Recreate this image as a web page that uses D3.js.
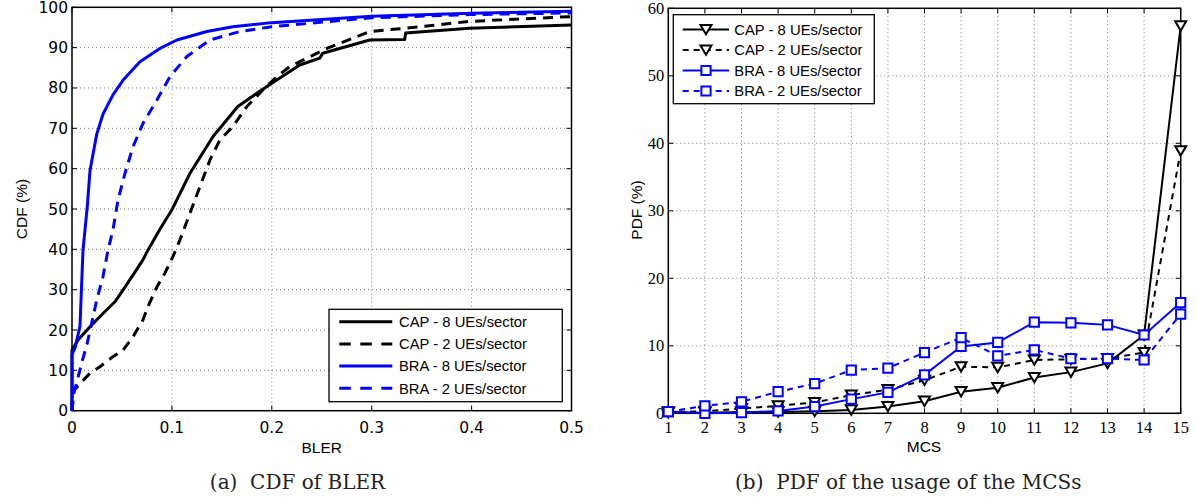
<!DOCTYPE html>
<html>
<head>
<meta charset="utf-8">
<script src="https://cdn.jsdelivr.net/npm/d3@7"></script>
<style>
  html, body { margin: 0; padding: 0; background: #fff; }
  svg { display: block; }
</style>
</head>
<body>
<svg id="chart" width="1197" height="499"></svg>
<script>
// ---------------- Data: (a) CDF of BLER ----------------
const cdfXTicks = [0, 0.1, 0.2, 0.3, 0.4, 0.5];
const cdfYTicks = [0, 10, 20, 30, 40, 50, 60, 70, 80, 90, 100];

const blerCap8 = [0, 0, 0.006, 0.018, 0.031, 0.043, 0.051, 0.061, 0.071, 0.076, 0.088, 0.100, 0.118, 0.141, 0.166, 0.185, 0.200, 0.228, 0.248, 0.251, 0.298, 0.333, 0.334, 0.398, 0.5];
const cdfCap8  = [0, 15, 17.5, 20.8, 24.1, 27.0, 29.9, 33.6, 37.4, 39.8, 45.0, 49.8, 58.8, 67.9, 75.4, 78.7, 81.2, 85.7, 87.4, 88.6, 91.9, 92.0, 93.6, 94.8, 95.6];

const blerCap2 = [0, 0, 0.002, 0.018, 0.028, 0.041, 0.051, 0.061, 0.071, 0.076, 0.085, 0.093, 0.101, 0.108, 0.118, 0.128, 0.138, 0.148, 0.161, 0.175, 0.191, 0.205, 0.218, 0.255, 0.298, 0.333, 0.398, 0.5];
const cdfCap2  = [0, 4, 5.1, 9.3, 10.9, 13.4, 15.0, 18.3, 22.5, 25.8, 30.7, 34.1, 38.2, 42.3, 48.9, 55.5, 62.1, 67.1, 70.4, 75.4, 79.5, 82.8, 85.3, 89.8, 94.0, 94.8, 96.5, 97.7];

const blerBra8 = [0, 0, 0.003, 0.008, 0.011, 0.0153, 0.018, 0.0247, 0.031, 0.041, 0.051, 0.068, 0.088, 0.105, 0.135, 0.161, 0.2, 0.3, 0.4, 0.5];
const cdfBra8  = [0, 14, 15.5, 21, 39.8, 50.6, 59.5, 68.5, 73.5, 78.3, 81.9, 86.5, 89.8, 91.9, 94.0, 95.2, 96.2, 97.8, 98.5, 99.0];

const blerBra2 = [0, 0.002, 0.0097, 0.0153, 0.0197, 0.0247, 0.031, 0.036, 0.041, 0.046, 0.053, 0.061, 0.071, 0.085, 0.098, 0.115, 0.138, 0.168, 0.2, 0.3, 0.4, 0.5];
const cdfBra2  = [0, 4.4, 11.8, 16.8, 21.7, 27.4, 33.2, 39.8, 44.8, 52.2, 58.8, 65.4, 71.2, 77.0, 82.8, 87.8, 91.9, 94.0, 95.2, 97.4, 98.2, 98.6];

const seriesNames = ["CAP - 8 UEs/sector", "CAP - 2 UEs/sector", "BRA - 8 UEs/sector", "BRA - 2 UEs/sector"];

// ---------------- Data: (b) PDF of MCS usage ----------------
const mcs = [1, 2, 3, 4, 5, 6, 7, 8, 9, 10, 11, 12, 13, 14, 15];
const pdfYTicks = [0, 10, 20, 30, 40, 50, 60];
const pdfCap8 = [0.1, 0.1, 0.2, 0.2, 0.3, 0.5, 1.0, 1.8, 3.2, 3.8, 5.3, 6.1, 7.4, 11.6, 57.4];
const pdfCap2 = [0.2, 0.3, 0.7, 1.1, 1.6, 2.7, 3.5, 4.9, 6.9, 6.8, 7.9, 8.0, 8.1, 9.0, 38.9];
const pdfBra8 = [0.25, 0.0, 0.1, 0.35, 1.0, 2.1, 3.1, 5.7, 9.9, 10.5, 13.5, 13.4, 13.1, 11.6, 16.4];
const pdfBra2 = [0.25, 1.1, 1.7, 3.2, 4.4, 6.4, 6.7, 9.0, 11.2, 8.5, 9.4, 8.1, 8.1, 7.9, 14.7];

const captions = ["(a)\u00a0 CDF of BLER", "(b)\u00a0 PDF of the usage of the MCSs"];

// ---------------- Drawing ----------------
const svg = d3.select("#chart");
svg.append("rect").attr("width", 1197).attr("height", 499).attr("fill", "#fff");

const BLUE = "#0000ff";
const SANS = "'Liberation Sans', Arial, Helvetica, sans-serif";

function frame(g, x, y, xTicks, yTicks, xFmt, yFmt, tickFont, tickSize, xLabOff) {
  const [x0, x1] = x.range();
  const [y0, y1] = y.range(); // y0 bottom, y1 top
  const grid = g.append("g").attr("stroke", "#777").attr("stroke-width", 1).attr("stroke-dasharray", "1,3");
  xTicks.forEach(t => grid.append("line").attr("x1", x(t)).attr("x2", x(t)).attr("y1", y0).attr("y2", y1));
  yTicks.forEach(t => grid.append("line").attr("y1", y(t)).attr("y2", y(t)).attr("x1", x0).attr("x2", x1));
  const ticks = g.append("g").attr("stroke", "#000").attr("stroke-width", 1);
  xTicks.forEach(t => {
    ticks.append("line").attr("x1", x(t)).attr("x2", x(t)).attr("y1", y0).attr("y2", y0 - 5);
    ticks.append("line").attr("x1", x(t)).attr("x2", x(t)).attr("y1", y1).attr("y2", y1 + 5);
  });
  yTicks.forEach(t => {
    ticks.append("line").attr("y1", y(t)).attr("y2", y(t)).attr("x1", x0).attr("x2", x0 + 5);
    ticks.append("line").attr("y1", y(t)).attr("y2", y(t)).attr("x1", x1).attr("x2", x1 - 5);
  });
  g.append("rect").attr("x", x0).attr("y", y1).attr("width", x1 - x0).attr("height", y0 - y1)
    .attr("fill", "none").attr("stroke", "#000").attr("stroke-width", 1.5);
  const lab = g.append("g").attr("font-family", tickFont).attr("font-size", tickSize).attr("fill", "#000");
  xTicks.forEach(t => lab.append("text").attr("x", x(t)).attr("y", y0 + xLabOff).attr("text-anchor", "middle").text(xFmt(t)));
  yTicks.forEach(t => lab.append("text").attr("x", x0 - 4).attr("y", y(t) + 5.5).attr("text-anchor", "end").text(yFmt(t)));
}

// ---- Left chart ----
const gL = svg.append("g");
const xL = d3.scaleLinear().domain([0, 0.5]).range([72, 571.5]);
const yL = d3.scaleLinear().domain([0, 100]).range([410.7, 7.3]);
frame(gL, xL, yL, cdfXTicks, cdfYTicks, d => d === 0 ? "0" : d3.format(".1f")(d), d => String(d),
      "'DejaVu Sans', sans-serif", 15.5, 22.5);

const lineL = d3.line().x(d => xL(d[0])).y(d => yL(d[1]));
const cdfSeries = [
  { xs: blerCap8, ys: cdfCap8, color: "#000", dash: null },
  { xs: blerCap2, ys: cdfCap2, color: "#000", dash: "10,7" },
  { xs: blerBra8, ys: cdfBra8, color: BLUE, dash: null },
  { xs: blerBra2, ys: cdfBra2, color: BLUE, dash: "10,7" }
];
cdfSeries.forEach(s => {
  gL.append("path").datum(s.xs.map((v, i) => [v, s.ys[i]]))
    .attr("d", lineL).attr("fill", "none").attr("stroke", s.color).attr("stroke-width", 3)
    .attr("stroke-linejoin", "round").attr("stroke-dasharray", s.dash);
});

gL.append("text").attr("x", 321.7).attr("y", 452.5).attr("text-anchor", "middle")
  .attr("font-family", SANS).attr("font-size", 15.5).text("BLER");
gL.append("text").attr("transform", "translate(27,209) rotate(-90)").attr("text-anchor", "middle")
  .attr("font-family", SANS).attr("font-size", 15.5).text("CDF (%)");

// Left legend
const legL = gL.append("g");
legL.append("rect").attr("x", 329).attr("y", 309.3).attr("width", 233.3).attr("height", 92.4)
  .attr("fill", "#fff").attr("stroke", "#000").attr("stroke-width", 1.3);
cdfSeries.forEach((s, i) => {
  const yy = 321.7 + i * 22.2;
  legL.append("line").attr("x1", 339.3).attr("x2", 392.3).attr("y1", yy).attr("y2", yy)
    .attr("stroke", s.color).attr("stroke-width", 3).attr("stroke-dasharray", s.dash ? "11.5,9.5" : null);
  legL.append("text").attr("x", 399).attr("y", yy + 5.2).attr("font-family", SANS).attr("font-size", 14.8)
    .text(seriesNames[i]);
});

// ---- Right chart ----
const gR = svg.append("g");
const xR = d3.scaleLinear().domain([1, 15]).range([668.3, 1180.7]);
const yR = d3.scaleLinear().domain([0, 60]).range([413.3, 8.3]);
frame(gR, xR, yR, mcs, pdfYTicks, d => String(d), d => String(d),
      "'Liberation Serif', 'Times New Roman', serif", 16.5, 19.5);

const lineR = d3.line().x(d => xR(d[0])).y(d => yR(d[1]));
const triPath = "M-5.5,-4.6L5.5,-4.6L0,4.8Z";
const sqPath = "M-4.6,-4.6H4.6V4.6H-4.6Z";
const pdfSeries = [
  { ys: pdfCap8, color: "#000", dash: null, marker: triPath },
  { ys: pdfCap2, color: "#000", dash: "6,5", marker: triPath },
  { ys: pdfBra8, color: BLUE, dash: null, marker: sqPath },
  { ys: pdfBra2, color: BLUE, dash: "6,5", marker: sqPath }
];
pdfSeries.forEach(s => {
  const pts = mcs.map((m, i) => [m, s.ys[i]]);
  gR.append("path").datum(pts).attr("d", lineR).attr("fill", "none").attr("stroke", s.color)
    .attr("stroke-width", 2).attr("stroke-dasharray", s.dash);
});
pdfSeries.forEach(s => {
  const pts = mcs.map((m, i) => [m, s.ys[i]]);
  gR.append("g").selectAll("path").data(pts).join("path")
    .attr("transform", d => `translate(${xR(d[0])},${yR(d[1])})`)
    .attr("d", s.marker).attr("fill", "#fff").attr("stroke", s.color).attr("stroke-width", 2);
});

gR.append("text").attr("x", 924).attr("y", 451.5).attr("text-anchor", "middle")
  .attr("font-family", SANS).attr("font-size", 15.5).text("MCS");
gR.append("text").attr("transform", "translate(641.5,210) rotate(-90)").attr("text-anchor", "middle")
  .attr("font-family", SANS).attr("font-size", 15.5).text("PDF (%)");

// Right legend
const legR = gR.append("g");
legR.append("rect").attr("x", 673.3).attr("y", 14.7).attr("width", 201).attr("height", 89)
  .attr("fill", "#fff").attr("stroke", "#000").attr("stroke-width", 1.3);
pdfSeries.forEach((s, i) => {
  const yy = 29.5 + i * 20.5;
  legR.append("line").attr("x1", 682.7).attr("x2", 729).attr("y1", yy).attr("y2", yy)
    .attr("stroke", s.color).attr("stroke-width", 2).attr("stroke-dasharray", s.dash ? "6,5" : null);
  legR.append("path").attr("transform", `translate(706,${yy})`).attr("d", s.marker)
    .attr("fill", "#fff").attr("stroke", s.color).attr("stroke-width", 2);
  legR.append("text").attr("x", 734.3).attr("y", yy + 5.2).attr("font-family", SANS).attr("font-size", 14.8)
    .text(seriesNames[i]);
});

// Captions
const capFont = "'DejaVu Serif', serif";
svg.append("text").attr("x", 297.5).attr("y", 489.3).attr("text-anchor", "middle")
  .attr("font-family", capFont).attr("font-size", 20).attr("fill", "#222").text(captions[0]);
svg.append("text").attr("x", 908.3).attr("y", 489.3).attr("text-anchor", "middle")
  .attr("font-family", capFont).attr("font-size", 20).attr("fill", "#222").text(captions[1]);
</script>
</body>
</html>
